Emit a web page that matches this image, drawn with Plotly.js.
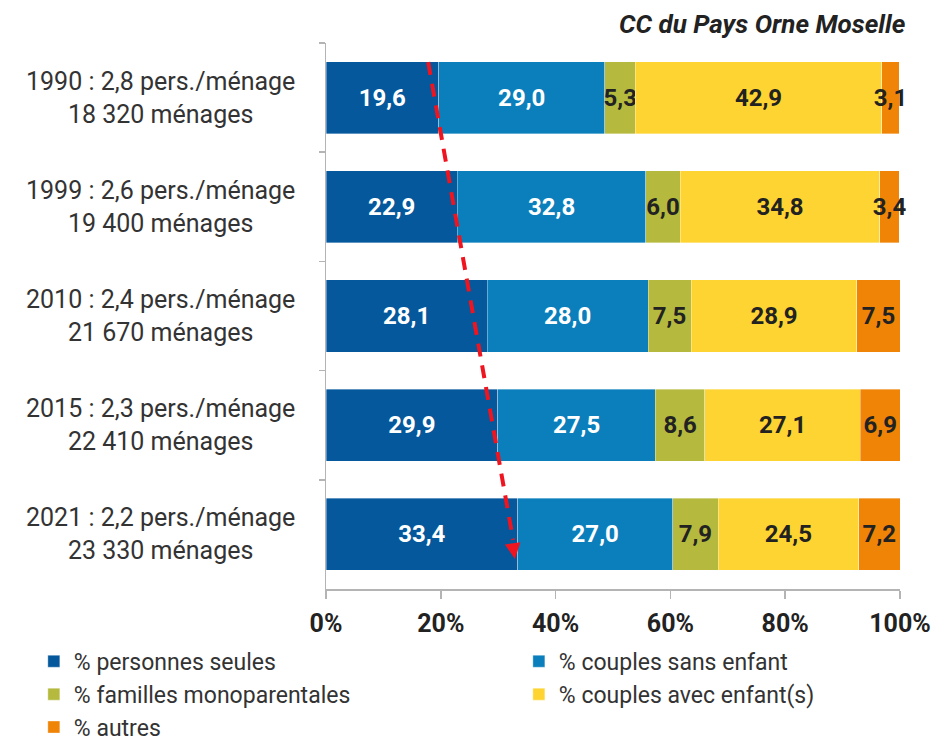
<!DOCTYPE html>
<html>
<head>
<meta charset="utf-8">
<script src="https://cdn.plot.ly/plotly-3.0.1.min.js"></script>
<style>html,body{margin:0;padding:0;background:#fff;}#chart{width:945px;height:745px;}</style>
</head>
<body>
<div id="chart"></div>
<script>
// ---- Data ----
const years = ['1990', '1999', '2010', '2015', '2021'];
const personsPerHousehold = [2.8, 2.6, 2.4, 2.3, 2.2];
const households = [18320, 19400, 21670, 22410, 23330];

const seriesNames = ['% personnes seules', '% couples sans enfant', '% familles monoparentales', '% couples avec enfant(s)', '% autres'];
const personnesSeules = [19.6, 22.9, 28.1, 29.9, 33.4];
const couplesSansEnfant = [29.0, 32.8, 28.0, 27.5, 27.0];
const famillesMono = [5.3, 6.0, 7.5, 8.6, 7.9];
const couplesAvecEnfants = [42.9, 34.8, 28.9, 27.1, 24.5];
const autres = [3.1, 3.4, 7.5, 6.9, 7.2];

const xTickVals = [0, 20, 40, 60, 80, 100];
const chartTitle = 'CC du Pays Orne Moselle';

// ---- Styles ----
const FONT = 'Roboto, "Liberation Sans", sans-serif';
const colors = ['#04589b', '#0a7fbc', '#b5ba3e', '#fdd431', '#ef8406'];
const textColors = ['#ffffff', '#ffffff', '#222222', '#222222', '#222222'];
const legendOf = ['legend', 'legend2', 'legend', 'legend2', 'legend'];
const allSeries = [personnesSeules, couplesSansEnfant, famillesMono, couplesAvecEnfants, autres];

function fr1(v) { return v.toFixed(1).replace('.', ','); }
function frInt(v) { return String(v).replace(/\B(?=(\d{3})+(?!\d))/g, ' '); }

const traces = allSeries.map((vals, i) => ({
  type: 'bar',
  orientation: 'h',
  name: seriesNames[i],
  legend: legendOf[i],
  legendgroup: 'g' + i,
  y: years,
  x: vals,
  text: vals.map(fr1),
  texttemplate: '%{text}',
  textposition: 'inside',
  insidetextanchor: 'middle',
  constraintext: 'none',
  textangle: 0,
  cliponaxis: false,
  insidetextfont: { family: FONT, size: 24, weight: 'bold', color: textColors[i] },
  marker: { color: colors[i], line: { color: 'rgba(255,255,255,0.6)', width: 0.6 } },
  hoverinfo: 'skip'
}));

const yLabelAnnotations = years.map((yr, i) => ({
  xref: 'paper', yref: 'y',
  x: -0.2875, y: i,
  xanchor: 'center', yanchor: 'middle',
  align: 'center',
  showarrow: false,
  text: yr + ' : ' + fr1(personsPerHousehold[i]) + ' pers./ménage<br>' + frInt(households[i]) + ' ménages',
  font: { family: FONT, size: 25, color: '#333333' }
}));

const arrowHead = {
  xref: 'x', yref: 'paper',
  x: 32.9, y: 0.055,
  axref: 'pixel', ayref: 'pixel',
  ax: -2, ay: -14,
  showarrow: true, arrowhead: 2, arrowsize: 0.9, arrowwidth: 3.5,
  arrowcolor: '#ee1520', text: '', standoff: 0
};

const legendCommon = {
  orientation: 'v',
  yanchor: 'top', xanchor: 'left',
  traceorder: 'normal',
  tracegroupgap: 0,
  bgcolor: 'rgba(0,0,0,0)',
  font: { family: FONT, size: 23, color: '#333333' },
  itemclick: false, itemdoubleclick: false
};

const layout = {
  width: 945, height: 745,
  margin: { l: 326, r: 45, t: 43, b: 156, pad: 0, autoexpand: false },
  paper_bgcolor: '#ffffff', plot_bgcolor: '#ffffff',
  barmode: 'stack',
  bargap: 0.34,
  separators: ', ',
  font: { family: FONT, color: '#333333' },
  title: {
    text: chartTitle,
    font: { family: FONT, size: 26, weight: 'bold', style: 'italic', color: '#222222' },
    xref: 'container', x: 0.958, xanchor: 'right',
    yref: 'container', y: 0.968, yanchor: 'middle'
  },
  xaxis: {
    range: [0, 100],
    tickvals: xTickVals,
    ticktext: xTickVals.map(v => v + '%'),
    showgrid: false, zeroline: false,
    showline: true, linecolor: '#b4b4b4', linewidth: 1.5,
    ticks: 'outside', ticklen: 8, tickcolor: '#b4b4b4', tickwidth: 1.5,
    ticklabelstandoff: 3,
    tickfont: { family: FONT, size: 25, weight: 'bold', color: '#222222' },
    fixedrange: true
  },
  yaxis: {
    type: 'category',
    categoryorder: 'array', categoryarray: years,
    range: [years.length - 0.5, -0.5],
    autorange: false,
    showticklabels: false,
    showgrid: false, zeroline: false,
    showline: true, linecolor: '#b4b4b4', linewidth: 1.5,
    ticks: 'outside', tickson: 'boundaries', ticklen: 6, tickcolor: '#b4b4b4', tickwidth: 1.5,
    fixedrange: true
  },
  showlegend: true,
  legend: Object.assign({}, legendCommon, { x: -0.509, y: -0.093 }),
  legend2: Object.assign({}, legendCommon, { x: 0.336, y: -0.093 }),
  shapes: [{
    type: 'line', xref: 'x', yref: 'paper',
    x0: 17.8, y0: 0.965, x1: 32.6, y1: 0.09,
    line: { color: '#ee1520', width: 4, dash: '13px,9px' }
  }],
  annotations: yLabelAnnotations.concat([arrowHead])
};

Plotly.newPlot('chart', traces, layout, { staticPlot: true, displayModeBar: false });
</script>
</body>
</html>
